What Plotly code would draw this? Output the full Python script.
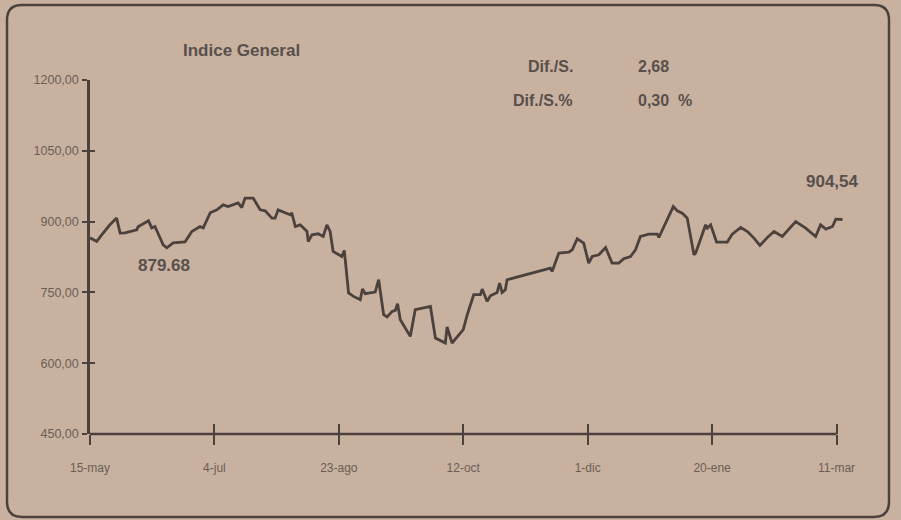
import plotly.graph_objects as go

# ---- data (days counted from 15-may; index values) ----
days = [0, 2.7, 4.7, 8.0, 10.7, 12.1, 14.1, 18.8, 19.3, 23.5, 24.8, 26.1, 29.4, 30.9, 33.4,
        38.2, 40.9, 44.2, 45.5, 48.3, 51.0, 53.5, 55.5, 59.5, 61.0, 62.3, 65.6, 68.4, 70.4,
        73.1, 74.4, 75.6, 78.4, 80.5, 81.1, 82.5, 84.5, 87.2, 87.7, 89.2, 91.7, 93.7, 95.2,
        96.5, 97.7, 101.2, 102.2, 103.9, 105.9, 108.6, 109.5, 110.6, 114.6, 116.0, 118.0,
        119.4, 121.4, 122.7, 123.6, 124.7, 128.7, 130.7, 136.8, 138.8, 142.8, 143.5, 145.5,
        150.0, 151.6, 154.2, 156.9, 157.6, 159.6, 160.9, 163.6, 164.6, 165.6, 166.9, 167.6,
        185.0, 185.7, 188.4, 192.4, 193.8, 195.8, 198.4, 200.4, 201.8, 204.5, 207.2, 209.8,
        212.5, 214.5, 217.2, 219.2, 221.2, 224.6, 228.0, 228.6, 231.3, 234.4, 236.0, 238.0,
        240.0, 242.7, 243.4, 245.4, 247.4, 248.1, 249.4, 251.8, 256.1, 258.1, 261.5, 264.2,
        266.8, 269.2, 272.2, 274.9, 278.2, 283.6, 287.6, 291.6, 293.6, 295.7, 298.4, 299.7,
        302.4]
values = [865.7, 857.8, 872.0, 893.2, 907.4, 875.6, 876.2, 882.6, 888.9, 901.6, 886.8, 889.6,
          850.9, 844.5, 855.1, 857.2, 879.0, 889.6, 886.8, 918.6, 924.9, 935.5, 931.9, 939.7,
          929.8, 949.7, 949.7, 924.9, 922.8, 907.4, 907.4, 924.9, 918.6, 914.3, 918.6, 889.6,
          893.2, 879.0, 857.8, 872.0, 874.1, 868.4, 893.2, 879.0, 836.7, 826.1, 838.8, 748.7,
          741.5, 734.5, 757.1, 747.2, 750.8, 776.8, 702.7, 697.9, 709.7, 711.8, 726.0, 692.2,
          656.8, 713.3, 720.3, 653.4, 642.8, 676.7, 642.8, 671.0, 702.7, 745.1, 745.1, 757.1,
          730.9, 742.9, 749.9, 769.8, 749.9, 755.6, 776.8, 801.6, 794.4, 833.3, 835.4, 840.3,
          863.6, 854.5, 812.1, 826.1, 829.7, 845.1, 812.1, 812.1, 821.2, 826.1, 840.3, 868.4,
          873.5, 873.5, 866.3, 896.8, 931.9, 922.8, 917.9, 907.4, 829.7, 833.3, 865.0, 893.2,
          886.2, 893.2, 856.6, 856.6, 873.5, 887.5, 879.0, 865.0, 849.4, 866.3, 879.0, 868.4,
          900.2, 886.2, 868.4, 893.2, 884.1, 889.6, 905.2, 904.5]

tick_days = [0, 50, 100, 150, 200, 250, 300]
tick_labels = ["15-may", "4-jul", "23-ago", "12-oct", "1-dic", "20-ene", "11-mar"]
y_ticks = [450, 600, 750, 900, 1050, 1200]
y_labels = ["450,00", "600,00", "750,00", "900,00", "1050,00", "1200,00"]

title_text = "Indice General"
stat_names = ["Dif./S.", "Dif./S.%"]
stat_values = ["2,68", "0,30  %"]
last_label = "904,54"
low_label = "879.68"
low_index = 13

# ---- style ----
W, H = 901, 520
L, R, T, B = 90, 57, 80, 86
BG = "#c9b19f"
INK = "#4b413d"
TXT = "#57504c"
TICKTXT = "#6a5e58"
FONT = "Liberation Sans Narrow, Arial Narrow, Liberation Sans, Arial, sans-serif"

pw = W - L - R
ph = H - T - B


def px(x):
    return (x - L) / pw


def py(y):
    return (H - B - y) / ph


fig = go.Figure()
fig.add_trace(go.Scatter(x=days, y=values, mode="lines",
                         line=dict(color=INK, width=2.8), showlegend=False,
                         hoverinfo="x+y"))
fig.add_trace(go.Scatter(x=[None], y=[None], xaxis="x2", yaxis="y2",
                         showlegend=False, hoverinfo="skip"))

xr = [0, 303]
yr = [450, 1200]
fig.update_layout(
    width=W, height=H,
    margin=dict(l=L, r=R, t=T, b=B, autoexpand=False),
    paper_bgcolor=BG, plot_bgcolor=BG,
    xaxis=dict(range=xr, showgrid=False, zeroline=False, showline=False,
               tickmode="array", tickvals=tick_days, ticktext=tick_labels,
               ticks="outside", ticklen=10, tickwidth=2, tickcolor=INK,
               tickfont=dict(family=FONT, size=12, color=TICKTXT),
               ticklabelstandoff=13),
    xaxis2=dict(range=xr, overlaying="x", anchor="y", side="bottom",
                showgrid=False, zeroline=False, showline=False,
                tickmode="array", tickvals=tick_days, showticklabels=False,
                ticks="inside", ticklen=10, tickwidth=2, tickcolor=INK),
    yaxis=dict(range=yr, showgrid=False, zeroline=False, showline=True,
               linecolor=INK, linewidth=2.5,
               tickmode="array", tickvals=y_ticks, ticktext=y_labels,
               ticks="outside", ticklen=5, tickwidth=2, tickcolor=INK,
               tickfont=dict(family=FONT, size=12.5, color=TICKTXT),
               ticklabelstandoff=1),
    yaxis2=dict(range=yr, overlaying="y", anchor="x", side="left",
                showgrid=False, zeroline=False, showline=False,
                tickmode="array", tickvals=y_ticks, showticklabels=False,
                ticks="inside", ticklen=5, tickwidth=2, tickcolor=INK),
)

# x axis line ending at the last tick
fig.add_shape(type="line", xref="x", yref="paper", x0=tick_days[0], x1=tick_days[-1],
              y0=0, y1=0, line=dict(color=INK, width=2.5))

# rounded frame
x0, y0, x1, y1, r = 7, 5, 889, 517, 15
path = (f"M {px(x0 + r)},{py(y0)} L {px(x1 - r)},{py(y0)} "
        f"Q {px(x1)},{py(y0)} {px(x1)},{py(y0 + r)} "
        f"L {px(x1)},{py(y1 - r)} Q {px(x1)},{py(y1)} {px(x1 - r)},{py(y1)} "
        f"L {px(x0 + r)},{py(y1)} Q {px(x0)},{py(y1)} {px(x0)},{py(y1 - r)} "
        f"L {px(x0)},{py(y0 + r)} Q {px(x0)},{py(y0)} {px(x0 + r)},{py(y0)} Z")
fig.add_shape(type="path", xref="paper", yref="paper", path=path,
              line=dict(color=INK, width=2.5), layer="below")

bold = dict(family=FONT, color=TXT)
fig.add_annotation(text=f"<b>{title_text}</b>", xref="paper", yref="paper",
                   x=px(241), y=py(51), showarrow=False,
                   font=dict(size=17, **bold), xanchor="center", yanchor="middle")
for i, (n, v) in enumerate(zip(stat_names, stat_values)):
    yy = py(67 + 33 * i)
    fig.add_annotation(text=f"<b>{n}</b>", xref="paper", yref="paper", x=px(575), y=yy,
                       showarrow=False, xanchor="right", yanchor="middle",
                       font=dict(size=16, **bold))
    fig.add_annotation(text=f"<b>{v}</b>", xref="paper", yref="paper", x=px(636), y=yy,
                       showarrow=False, xanchor="left", yanchor="middle",
                       font=dict(size=16, **bold))

fig.add_annotation(text=f"<b>{last_label}</b>", x=days[-1], y=values[-1],
                   showarrow=False, xshift=-10, yshift=38,
                   font=dict(size=17, **bold))
fig.add_annotation(text=f"<b>{low_label}</b>", x=days[low_index], y=values[low_index],
                   showarrow=False, xshift=-3, yshift=-18,
                   font=dict(size=17, **bold))

fig.write_html("out.html", config={"displayModeBar": False},
               post_script="document.body.style.margin='0';")
